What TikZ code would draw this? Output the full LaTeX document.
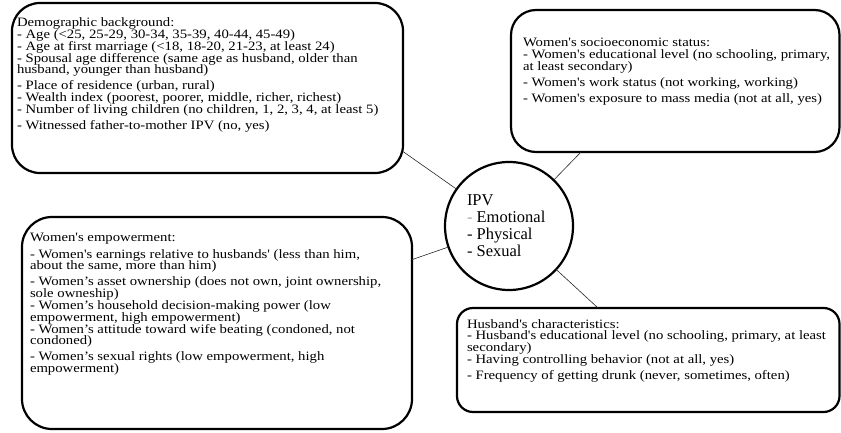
\documentclass[tikz,border=0pt]{standalone}
\usepackage{fontspec}
\setmainfont{Liberation Serif}[Ligatures=TeXOff]
\newfontfamily\boxfamily{Liberation Serif}[Ligatures=TeXOff,FakeStretch=1.15]
\begin{document}
\begin{tikzpicture}[x=1pt,y=-1pt,
  box/.style={draw,line width=2.2pt,inner sep=0pt,outer sep=0pt},
  txt/.style={inner sep=0pt,outer sep=0pt,anchor=base west},
  link/.style={line width=0.6pt,draw=black!85}]
\useasboundingbox (0,0) rectangle (841,433);
\newcommand{\bodyfont}{\boxfamily\fontsize{12.8}{11.8}\selectfont}
\newcommand{\gp}{\\[4.3pt]}
% boxes
\node[box,rounded corners=28pt,minimum width=391pt,minimum height=170pt] (demo) at (207.5,88) {};
\node[box,rounded corners=25pt,minimum width=328.5pt,minimum height=142pt] (soc) at (675.25,81) {};
\node[box,rounded corners=30pt,minimum width=390pt,minimum height=212pt] (emp) at (217,323) {};
\node[box,rounded corners=16pt,minimum width=382.5pt,minimum height=104pt] (hus) at (648.25,360) {};
\node[draw,circle,line width=2.2pt,minimum size=128pt,inner sep=0pt,outer sep=0pt] (ipv) at (509,226) {};
% texts
\node[txt] (demotxt) at (17,26.7) {\parbox[t]{400pt}{\bodyfont
Demographic background:\\
- Age (<25, 25-29, 30-34, 35-39, 40-44, 45-49)\\
- Age at first marriage (<18, 18-20, 21-23, at least 24)\\
- Spousal age difference (same age as husband, older than\\
husband, younger than husband)\gp
- Place of residence (urban, rural)\\
- Wealth index (poorest, poorer, middle, richer, richest)\\
- Number of living children (no children, 1, 2, 3, 4, at least 5)\gp
- Witnessed father-to-mother IPV (no, yes)}};
\node[txt] (soctxt) at (523,47) {\parbox[t]{400pt}{\bodyfont
Women's socioeconomic status:\\
- Women's educational level (no schooling, primary,\\
at least secondary)\gp
- Women's work status (not working, working)\gp
- Women's exposure to mass media (not at all, yes)}};
\node[txt] (emptxt) at (30,241.7) {\parbox[t]{400pt}{\bodyfont
Women's empowerment:\\[4.5pt]
- Women's earnings relative to husbands' (less than him,\\
about the same, more than him)\gp
- Women’s asset ownership (does not own, joint ownership,\\
sole owneship)\\
- Women’s household decision-making power (low\\
empowerment, high empowerment)\\
- Women’s attitude toward wife beating (condoned, not\\
condoned)\gp
- Women’s sexual rights (low empowerment, high\\
empowerment)}};
\node[txt] (hustxt) at (467,328) {\parbox[t]{400pt}{\bodyfont
Husband's characteristics:\\
- Husband's educational level (no schooling, primary, at least\\
secondary)\\
- Having controlling behavior (not at all, yes)\\[4pt]
- Frequency of getting drunk (never, sometimes, often)}};
\node[txt] (ipvtxt) at (467,205) {\parbox[t]{100pt}{\fontsize{16.5}{17.3}\selectfont
IPV\\
{\color{black!35}-} Emotional\\
- Physical\\
- Sexual}};
% connectors
\draw[link] (ipv) -- (demo.-18.9);
\draw[link] (ipv) -- (soc.217.3);
\draw[link] (ipv) -- (emp.18.7);
\draw[link] (ipv) -- (hus.134.6);
\end{tikzpicture}
\end{document}
